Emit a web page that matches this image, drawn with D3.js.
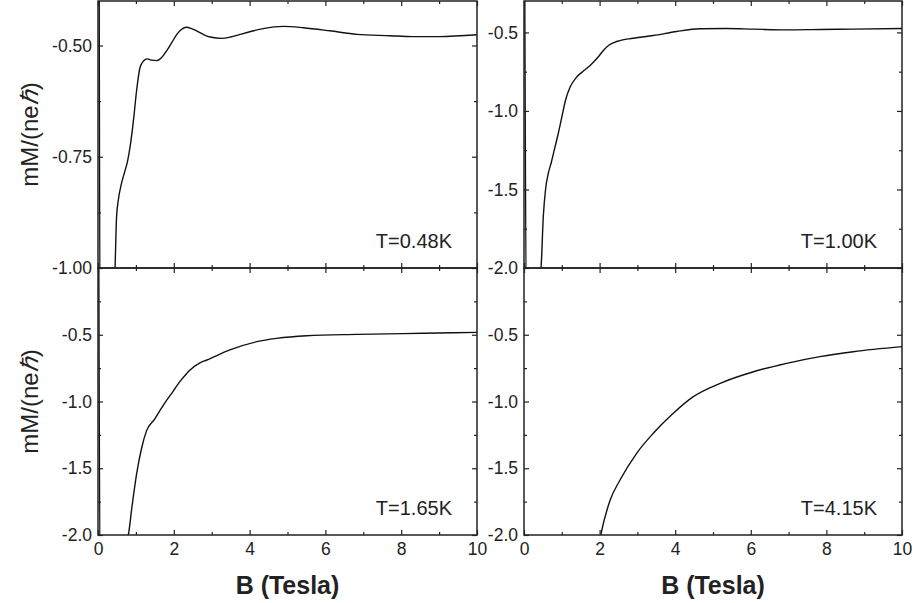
<!DOCTYPE html>
<html lang="en">
<head>
<meta charset="utf-8">
<title>mM/(neh) vs B</title>
<script src="https://cdn.jsdelivr.net/npm/d3@7"></script>
<style>
  body { margin: 0; background: #fff; }
  text { font-family: "Liberation Sans", Arial, sans-serif; fill: #222; }
</style>
</head>
<body>
<script>

// field (Tesla) and moment mM/(ne hbar)
var b048 = [0.02, 0.07, 0.45, 0.49, 0.54, 0.62, 0.7, 0.78, 0.86, 0.94, 1.02, 1.11, 1.2, 1.3, 1.42, 1.55, 1.68, 1.81, 1.95, 2.08, 2.2, 2.34, 2.47, 2.6, 2.8, 2.96, 3.26, 3.5, 3.75, 4.05, 4.36, 4.89, 5.42, 6.12, 6.83, 7.7, 8.3, 9.0, 10];
var m048 = [0.2, -1.5, -1.0, -0.885, -0.845, -0.81, -0.785, -0.76, -0.72, -0.665, -0.6, -0.549, -0.535, -0.53, -0.533, -0.534, -0.527, -0.512, -0.493, -0.475, -0.464, -0.459, -0.462, -0.467, -0.476, -0.481, -0.484, -0.481, -0.475, -0.468, -0.462, -0.457, -0.46, -0.467, -0.475, -0.478, -0.48, -0.48, -0.476];

var b100 = [0.02, 0.07, 0.45, 0.51, 0.57, 0.64, 0.72, 0.8, 0.9, 1.0, 1.1, 1.22, 1.39, 1.55, 1.75, 1.95, 2.1, 2.25, 2.45, 2.89, 3.42, 4.04, 4.66, 5.36, 6.07, 6.95, 7.83, 8.71, 10];
var m100 = [-0.2, -2.5, -2.0, -1.674, -1.5, -1.4, -1.33, -1.25, -1.15, -1.04, -0.93, -0.848, -0.785, -0.75, -0.71, -0.66, -0.615, -0.58, -0.558, -0.537, -0.52, -0.494, -0.477, -0.475, -0.479, -0.484, -0.481, -0.479, -0.475];

var b165 = [0.02, 0.06, 0.8, 0.9, 1.02, 1.15, 1.28, 1.5, 1.64, 1.8, 1.99, 2.15, 2.34, 2.43, 2.69, 2.87, 3.48, 4.19, 4.71, 5.51, 6.83, 8.58, 10];
var m165 = [0.2, -2.5, -2.0, -1.78, -1.54, -1.35, -1.22, -1.13, -1.065, -0.995, -0.92, -0.855, -0.79, -0.764, -0.71, -0.689, -0.614, -0.552, -0.527, -0.507, -0.497, -0.489, -0.482];

var b415 = [1.95, 2.03, 2.28, 2.54, 2.98, 3.42, 3.95, 4.48, 5.19, 6.07, 6.95, 7.83, 8.71, 10];
var m415 = [-2.12, -2.0, -1.738, -1.588, -1.388, -1.238, -1.088, -0.964, -0.864, -0.777, -0.714, -0.664, -0.627, -0.589];

var labels = ["T=0.48K", "T=1.00K", "T=1.65K", "T=4.15K"];
var yDomains = [[-1.0, -0.4], [-2.0, -0.3], [-2.0, 0.0], [-2.0, 0.0]];
var yMajor = [[-1.0, -0.75, -0.5], [-2.0, -1.5, -1.0, -0.5], [-2.0, -1.5, -1.0, -0.5], [-2.0, -1.5, -1.0, -0.5]];
var yMinor = [[-0.875, -0.625], [-1.75, -1.25, -0.75], [-1.75, -1.25, -0.75, -0.25], [-1.75, -1.25, -0.75, -0.25]];
var xMajor = [0, 2, 4, 6, 8, 10];
var xMinor = [1, 3, 5, 7, 9];

var w = 915, h = 603;
var cols = [[98, 477], [524, 902]];
var rows = [[268, 1], [535, 268]];

var series = [
  d3.zip(b048, m048), d3.zip(b100, m100),
  d3.zip(b165, m165), d3.zip(b415, m415)
];

// plain hyphen instead of the unicode minus d3 uses
function fmt(p) {
  var f = d3.format(p);
  return function(d) { return f(d).replace("\u2212", "-"); };
}

var svg = d3.select("body").append("svg")
    .attr("width", w)
    .attr("height", h);

var defs = svg.append("defs");

series.forEach(function(data, i) {
  var col = i % 2, row = Math.floor(i / 2);
  var x = d3.scaleLinear().domain([0, 10]).range(cols[col]);
  var y = d3.scaleLinear().domain(yDomains[i]).range(rows[row]);
  var x0 = cols[col][0], x1 = cols[col][1];
  var y0 = rows[row][1], y1 = rows[row][0];

  defs.append("clipPath").attr("id", "clip" + i)
    .append("rect")
    .attr("x", x0).attr("y", y0)
    .attr("width", x1 - x0).attr("height", y1 - y0);

  var g = svg.append("g");

  var line = d3.line()
      .x(function(d) { return x(d[0]); })
      .y(function(d) { return y(d[1]); })
      .curve(d3.curveMonotoneX);

  g.append("path")
    .datum(data)
    .attr("clip-path", "url(#clip" + i + ")")
    .attr("d", line)
    .attr("fill", "none")
    .attr("stroke", "#111")
    .attr("stroke-width", 1.4);

  // left axis with labels, ticks pointing inwards
  g.append("g").attr("transform", "translate(" + x0 + ",0)")
    .call(d3.axisLeft(y).tickValues(yMajor[i]).tickSize(-5).tickPadding(6)
      .tickFormat(i == 0 ? fmt(".2f") : fmt(".1f")));
  g.append("g").attr("transform", "translate(" + x0 + ",0)")
    .call(d3.axisLeft(y).tickValues(yMinor[i]).tickSize(-3).tickFormat(""));
  g.append("g").attr("transform", "translate(" + x1 + ",0)")
    .call(d3.axisRight(y).tickValues(yMajor[i]).tickSize(-5).tickFormat(""));
  g.append("g").attr("transform", "translate(" + x1 + ",0)")
    .call(d3.axisRight(y).tickValues(yMinor[i]).tickSize(-3).tickFormat(""));

  // top and bottom
  g.append("g").attr("transform", "translate(0," + y0 + ")")
    .call(d3.axisTop(x).tickValues(xMajor).tickSize(-5).tickFormat(""));
  g.append("g").attr("transform", "translate(0," + y0 + ")")
    .call(d3.axisTop(x).tickValues(xMinor).tickSize(-3).tickFormat(""));
  g.append("g").attr("transform", "translate(0," + y1 + ")")
    .call(d3.axisBottom(x).tickValues(xMajor).tickSize(-5).tickPadding(8)
      .tickFormat(row == 1 ? d3.format("d") : ""));
  g.append("g").attr("transform", "translate(0," + y1 + ")")
    .call(d3.axisBottom(x).tickValues(xMinor).tickSize(-3).tickFormat(""));

  g.append("rect")
    .attr("x", x0).attr("y", y0)
    .attr("width", x1 - x0).attr("height", y1 - y0)
    .attr("fill", "none")
    .attr("stroke", "#222")
    .attr("stroke-width", 1.5);

  g.append("text")
    .attr("x", x1 - 25)
    .attr("y", y1 - 20)
    .attr("text-anchor", "end")
    .attr("font-size", "20px")
    .text(labels[i]);

  if (row == 1) {
    g.append("text")
      .attr("x", (x0 + x1) / 2)
      .attr("y", 594)
      .attr("text-anchor", "middle")
      .attr("font-size", "25px")
      .attr("font-weight", "bold")
      .text("B (Tesla)");
  }

  if (col == 0) {
    var t = g.append("text")
      .attr("transform", "translate(38," + (y0 + y1) / 2 + ") rotate(-90)")
      .attr("text-anchor", "middle")
      .attr("font-size", "24px");
    t.append("tspan").text("mM/(ne");
    t.append("tspan").attr("font-style", "italic").text("\u210F");
    t.append("tspan").text(")");
  }
});

svg.selectAll(".domain").remove();
svg.selectAll(".tick line").attr("stroke", "#222").attr("stroke-width", 1.2);
svg.selectAll(".tick text").attr("font-size", "17.5px").attr("fill", "#222");

</script>
</body>
</html>
